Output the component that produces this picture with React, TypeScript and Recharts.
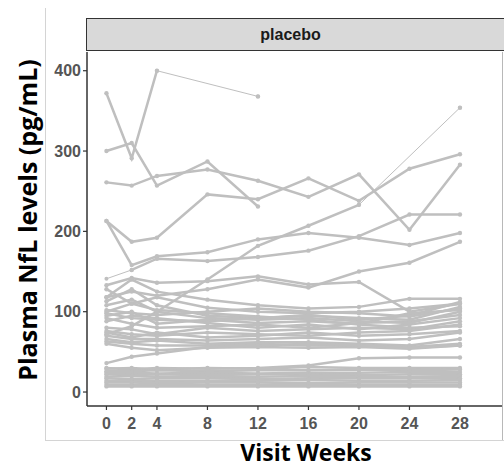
import React from 'react';
import { LineChart, Line, XAxis, YAxis } from 'recharts';

const weeks = [0, 2, 4, 8, 12, 16, 20, 24, 28];
const weekTicks = [0, 2, 4, 8, 12, 16, 20, 24, 28];
const nflTicks = [0, 100, 200, 300, 400];

type V = number | null;

const highSubjects: V[][] = [
  [372, 291, 400, null, 368, null, null, null, null],
  [300, 310, 257, 287, 231, null, null, null, null],
  [261, 257, 269, 277, 263, 243, 271, 202, 283],
  [213, 187, 192, 246, 240, 266, 238, 278, 296],
  [213, 158, 169, 174, 190, 198, 192, 183, 198],
  [null, 152, 166, 163, 168, 176, 194, 221, 221],
  [72, 82, 100, 140, 182, 207, 233, null, 354],
  [118, 125, 120, 128, 140, 130, 150, 161, 187],
  [133, 142, 136, 138, 144, 134, 137, 100, 110],
];

const midSubjects: V[][] = [
  [118, 140, 125, 115, 108, 104, 106, 116, 116],
  [113, 128, 108, 95, 92, 96, 90, 95, 112],
  [100, 110, 118, 105, 100, 98, 100, 104, 110],
  [98, 92, 90, 88, 92, 95, 92, 90, 106],
  [95, 100, 85, 90, 86, 88, 85, 98, 102],
  [92, 85, 80, 82, 84, 80, 86, 88, 96],
  [88, 95, 92, 86, 80, 84, 78, 84, 92],
  [80, 78, 72, 80, 76, 78, 80, 78, 88],
  [76, 72, 70, 74, 72, 70, 74, 76, 84],
  [74, 68, 74, 68, 70, 74, 70, 72, 76],
  [70, 66, 66, 64, 66, 68, 64, 66, 74],
  [66, 62, 64, 60, 62, 62, 60, 58, 66],
  [63, 60, 58, 58, 60, 58, 58, 56, 60],
  [60, 55, 52, 55, 56, 55, 56, 54, 58],
  [36, 44, 48, 56, 58, 60, 58, 55, 58],
  [108, 115, 100, 92, 90, 92, 88, 86, 100],
  [102, 98, 96, 100, 104, 100, 98, 94, 104],
  [128, 110, 102, 98, 94, 90, 84, 80, 82],
];

const lowSubjects: V[][] = [
  [30, 28, 30, 29, 30, 33, 42, 43, 43],
  [29, 30, 28, 30, 29, 31, 30, 30, 30],
  [26, 26, 27, 26, 27, 27, 28, 27, 28],
  [24, 24, 23, 24, 23, 24, 24, 25, 25],
  [22, 21, 22, 21, 22, 22, 21, 22, 22],
  [19, 20, 19, 19, 19, 20, 19, 19, 20],
  [17, 16, 17, 17, 16, 17, 17, 17, 17],
  [14, 14, 14, 14, 14, 15, 14, 14, 15],
  [12, 12, 11, 12, 12, 11, 12, 12, 12],
  [9, 9, 9, 9, 9, 9, 9, 9, 9],
  [7, 7, 7, 7, 7, 7, 7, 7, 7],
];

const thinSegments: V[][] = [
  [null, null, 400, null, 368, null, null, null, null],
  [141, 152, null, null, null, null, null, null, null],
  [null, null, null, null, null, null, 233, null, 354],
];

const subjects = [...highSubjects, ...midSubjects, ...lowSubjects];

const data = weeks.map((w, i) => {
  const row: Record<string, V> = { week: w };
  subjects.forEach((s, j) => { row['s' + j] = s[i]; });
  thinSegments.forEach((s, j) => { row['t' + j] = s[i]; });
  return row;
});

const LINE = '#bfbfbf';
const TICK = { fill: '#555555', fontSize: 16, fontWeight: 700, fontFamily: 'Liberation Sans, Arial, sans-serif' };

export default function App() {
  return (
    <div style={{ position: 'absolute', left: 0, top: 0, width: 504, height: 468, background: '#fff', overflow: 'hidden' }}>
      {/* crop frame lines */}
      <div style={{ position: 'absolute', left: 45, top: 8, width: 1, height: 433, background: '#d4d4d4' }} />
      <div style={{ position: 'absolute', left: 45, top: 440, width: 459, height: 1, background: '#d4d4d4' }} />
      <div style={{ position: 'absolute', left: 502, top: 52, width: 1, height: 388, background: '#b8b8b8' }} />
      {/* facet strip */}
      <div style={{
        position: 'absolute', left: 86, top: 18, width: 418, height: 33,
        background: '#d9d9d9', borderTop: '1.5px solid #333', borderBottom: '1.5px solid #333', borderLeft: '1.5px solid #333',
        boxSizing: 'border-box', display: 'flex', alignItems: 'center', justifyContent: 'center',
        fontFamily: 'Liberation Sans, Arial, sans-serif', fontWeight: 700, fontSize: 16, color: '#1a1a1a',
      }}>
        <span style={{ marginLeft: -10 }}>placebo</span>
      </div>
      <div style={{ position: 'absolute', left: 0, top: 0 }}>
        <LineChart width={504} height={468} data={data} margin={{ top: 52, right: 2, left: 27, bottom: 32 }}>
          <XAxis
            dataKey="week" type="number" domain={[-1.54, 31.33]} ticks={weekTicks} allowDataOverflow
            axisLine={{ stroke: '#333', strokeWidth: 1.5 }} tickLine={{ stroke: '#333', strokeWidth: 1.2 }}
            tickSize={4} tickMargin={8} tick={TICK} height={30} interval={0}
          />
          <YAxis
            type="number" domain={[-17.4, 423.3]} ticks={nflTicks} allowDataOverflow width={60}
            axisLine={{ stroke: '#333', strokeWidth: 1.5 }} tickLine={{ stroke: '#333', strokeWidth: 1.2 }}
            tickSize={4} tick={TICK} interval={0}
          />
          {thinSegments.map((_, j) => (
            <Line key={'t' + j} dataKey={'t' + j} stroke={LINE} strokeWidth={1} connectNulls
              dot={{ r: 2, fill: LINE, stroke: 'none' }} isAnimationActive={false} type="linear" />
          ))}
          {subjects.map((_, j) => (
            <Line key={'s' + j} dataKey={'s' + j} stroke={LINE} strokeWidth={2.5}
              dot={{ r: 2.2, fill: LINE, stroke: 'none' }} isAnimationActive={false} type="linear" />
          ))}
        </LineChart>
      </div>
      <div style={{
        position: 'absolute', left: 27, top: 220, transform: 'translate(-50%, -50%) rotate(-90deg)',
        whiteSpace: 'nowrap', lineHeight: 1, fontFamily: 'Open Sans, sans-serif', fontWeight: 700, fontSize: 25, color: '#000',
      }}>Plasma NfL levels (pg/mL)</div>
      <div style={{
        position: 'absolute', left: 306, top: 452, transform: 'translate(-50%, -50%)',
        whiteSpace: 'nowrap', lineHeight: 1, fontFamily: 'Open Sans, sans-serif', fontWeight: 700, fontSize: 23, color: '#000',
      }}>Visit Weeks</div>
    </div>
  );
}
